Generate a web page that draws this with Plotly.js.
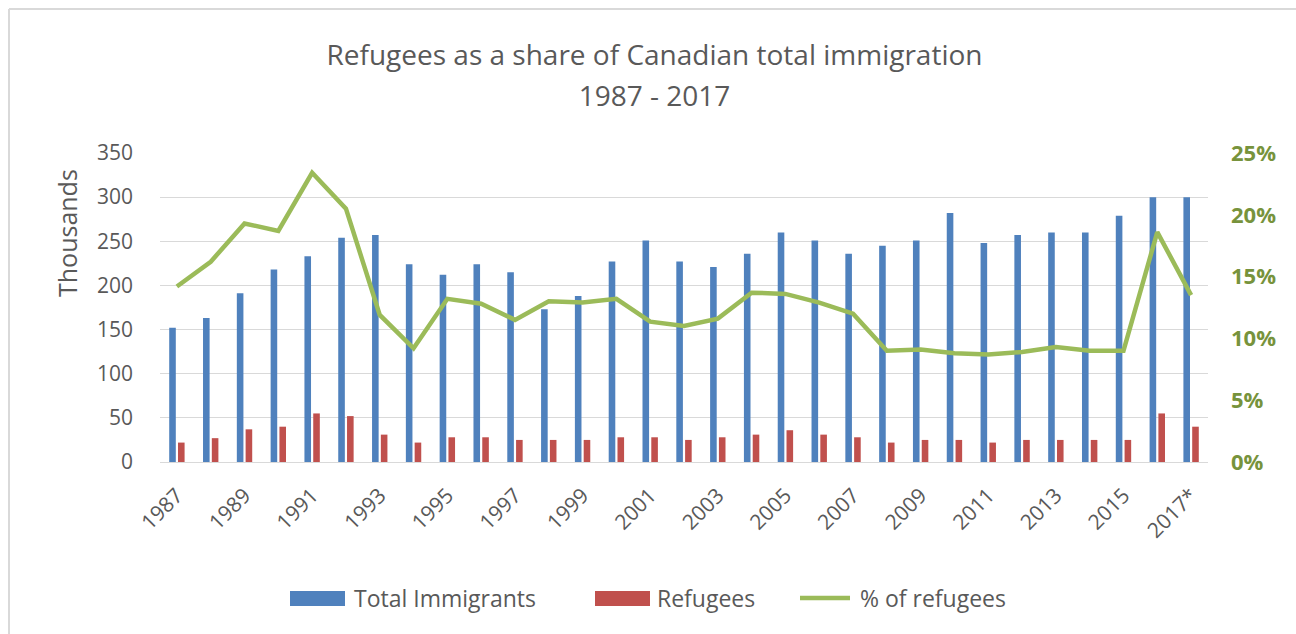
<!DOCTYPE html>
<html>
<head>
<meta charset="utf-8">
<script src="https://cdn.plot.ly/plotly-3.0.1.min.js"></script>
<style>
  html, body { margin: 0; padding: 0; background: #ffffff; }
  #chart { width: 1296px; height: 634px; }
</style>
</head>
<body>
<div id="chart"></div>
<script>
// ---- Data ----
const years = ["1987","1988","1989","1990","1991","1992","1993","1994","1995","1996",
               "1997","1998","1999","2000","2001","2002","2003","2004","2005","2006",
               "2007","2008","2009","2010","2011","2012","2013","2014","2015","2016","2017*"];
// Thousands
const totalImmigrants = [152,163,191,218,233,254,257,224,212,224,
                         215,173,188,227,251,227,221,236,260,251,
                         236,245,251,282,248,257,260,260,279,300,300];
const refugees = [22,27,37,40,55,52,31,22,28,28,
                  25,25,25,28,28,25,28,31,36,31,
                  28,22,25,25,22,25,25,25,25,55,40];
// Percent
const pctRefugees = [14.2,16.2,19.3,18.7,23.4,20.5,11.9,9.2,13.2,12.8,
                     11.5,13.0,12.9,13.2,11.35,11.0,11.6,13.7,13.6,12.9,
                     12.0,9.0,9.1,8.8,8.7,8.9,9.3,9.0,9.0,18.6,13.5];
const leftTicks = [0,50,100,150,200,250,300,350];
const rightTicks = [0,5,10,15,20,25];
const seriesNames = ["Total Immigrants","Refugees","% of refugees"];
const titleLines = ["Refugees as a share of Canadian total immigration","1987 - 2017"];
const yTitle = "Thousands";

// ---- Style ----
const FONT = "Open Sans, Noto Sans, sans-serif";
const GREY = "#595959";
const BLUE = "#4F81BD";
const RED = "#C0504D";
const GREEN = "#9BBB59";
const DARKGREEN = "#77933C";

const W = 1296, H = 634;
const M = {l:160, r:88, t:153, b:172};
const PW = W - M.l - M.r, PH = H - M.t - M.b;
const px = x => (x - M.l) / PW;       // pixel -> paper x
const py = y => (H - M.b - y) / PH;   // pixel -> paper y

const tickYears = years.filter((_, i) => i % 2 === 0);

const traces = [
  {type:"bar", name:seriesNames[0], x:years, y:totalImmigrants,
   marker:{color:BLUE}, showlegend:false, hoverinfo:"skip"},
  {type:"bar", name:seriesNames[1], x:years, y:refugees,
   marker:{color:RED}, showlegend:false, hoverinfo:"skip"},
  {type:"scatter", mode:"lines", name:seriesNames[2], x:years, y:pctRefugees, yaxis:"y2",
   line:{color:GREEN, width:4.5}, showlegend:false, hoverinfo:"skip"}
];

// manual legend (wide swatches as in the reference)
const legY = py(598);
const shapes = [
  {type:"rect", xref:"paper", yref:"paper", x0:px(290), x1:px(345), y0:py(591), y1:py(606),
   fillcolor:BLUE, line:{width:0}},
  {type:"rect", xref:"paper", yref:"paper", x0:px(595), x1:px(650), y0:py(591), y1:py(606),
   fillcolor:RED, line:{width:0}},
  {type:"line", xref:"paper", yref:"paper", x0:px(800), x1:px(850), y0:legY, y1:legY,
   line:{color:GREEN, width:4.5}},
  // chart-area border (top and left edges visible in reference)
  {type:"line", xref:"paper", yref:"paper", x0:px(9), x1:px(1296), y0:py(9), y1:py(9),
   line:{color:"#d9d9d9", width:2}},
  {type:"line", xref:"paper", yref:"paper", x0:px(9), x1:px(9), y0:py(9), y1:py(634),
   line:{color:"#d9d9d9", width:2}}
];
const legFont = {family:FONT, size:23, color:GREY};
const annotations = [
  {xref:"paper", yref:"paper", x:px(352), y:legY, xanchor:"left", yanchor:"middle",
   text:seriesNames[0], showarrow:false, font:legFont},
  {xref:"paper", yref:"paper", x:px(655), y:legY, xanchor:"left", yanchor:"middle",
   text:seriesNames[1], showarrow:false, font:legFont},
  {xref:"paper", yref:"paper", x:px(858), y:legY, xanchor:"left", yanchor:"middle",
   text:seriesNames[2], showarrow:false, font:legFont},
  // left axis title, placed high as in the reference
  {xref:"paper", yref:"paper", x:px(67), y:py(233), xanchor:"center", yanchor:"middle",
   text:yTitle, textangle:-90, showarrow:false, font:{family:FONT, size:25, color:GREY}}
];

const span = t => '<span style="font-size:28px">' + t + '</span>';

const layout = {
  width:W, height:H,
  margin:M,
  paper_bgcolor:"#ffffff", plot_bgcolor:"#ffffff",
  font:{family:FONT, color:GREY},
  title:{
    text:titleLines.map(span).join("<br>"),
    font:{family:FONT, size:32, color:GREY},
    x:0.505, xanchor:"center", xref:"container",
    y:0.898, yanchor:"top", yref:"container"
  },
  barmode:"group", bargap:0.48, bargroupgap:0.25,
  showlegend:false,
  xaxis:{
    type:"category", range:[-0.5, years.length - 0.5],
    tickmode:"array", tickvals:tickYears, ticktext:tickYears,
    tickangle:-45, tickfont:{family:FONT, size:21, color:GREY},
    ticks:"", showgrid:false, showline:true, linecolor:"#d9d9d9", linewidth:1,
    ticklabelstandoff:12, fixedrange:true
  },
  yaxis:{
    range:[0,350], tickmode:"array", tickvals:leftTicks, ticktext:leftTicks.map(String),
    tickfont:{family:FONT, size:21, color:GREY},
    showgrid:true, gridcolor:"#d9d9d9", gridwidth:1,
    zeroline:false, showline:false, ticks:"",
    ticklabelstandoff:26, fixedrange:true
  },
  yaxis2:{
    overlaying:"y", side:"right", range:[0,25], tickmode:"array", tickvals:rightTicks,
    ticktext:rightTicks.map(v => v + "%"),
    tickfont:{family:FONT, size:22, color:DARKGREEN, weight:"bold"},
    showgrid:false, zeroline:false, showline:false, ticks:"",
    ticklabelstandoff:22, fixedrange:true
  },
  shapes:shapes,
  annotations:annotations
};

Plotly.newPlot("chart", traces, layout, {displayModeBar:false, staticPlot:true});
</script>
</body>
</html>
